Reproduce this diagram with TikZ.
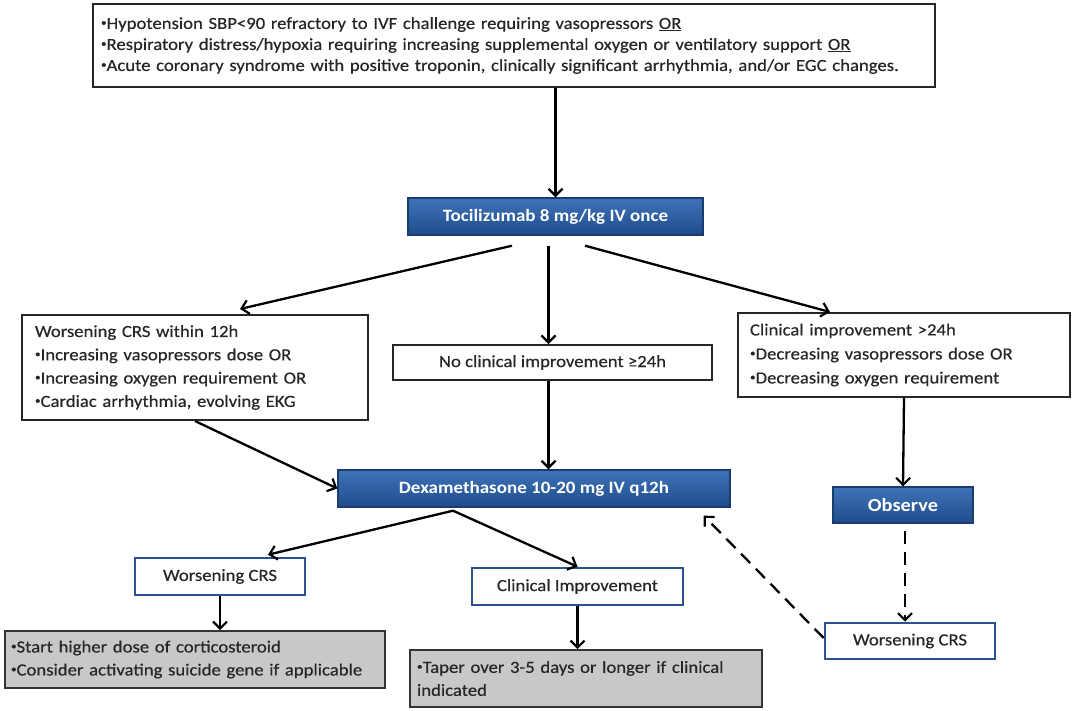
\documentclass[tikz,border=0pt]{standalone}
\usepackage{fontspec}
\setmainfont{Carlito}[FakeStretch=1.1, UprightFeatures={FakeBold=0.4}]
\usetikzlibrary{arrows.meta,calc}
\definecolor{blueTop}{HTML}{3F73B8}
\definecolor{blueBot}{HTML}{1E4C8A}
\definecolor{blueLine}{HTML}{1A3D6E}
\definecolor{blueEdge}{HTML}{2B5290}
\definecolor{grayFill}{HTML}{C8C8C8}
\newcommand{\bl}{\raisebox{0.18em}{\scalebox{0.6}{•}}}
\tikzset{
  plainbox/.style={draw=black!85, line width=2pt, fill=white, align=left, inner ysep=0pt,
    text=black!85, font=\fontsize{17}{23.3}\selectfont},
  bluebox/.style={draw=blueLine, line width=1.4pt, top color=blueTop, bottom color=blueBot,
    text=white, font=\fontsize{17.3}{22}\selectfont\bfseries, inner sep=0pt},
  edgebox/.style={draw=blueEdge, line width=2.6pt, fill=white, inner sep=0pt,
    text=black!85, font=\fontsize{17}{22}\selectfont},
  graybox/.style={draw=black!80, line width=1.8pt, fill=grayFill, align=left, inner ysep=0pt,
    text=black!85, font=\fontsize{17}{23}\selectfont},
  arr/.style={line width=2.3pt, -{Straight Barb[length=7pt,width=14pt,line width=2.2pt]}},
  darr/.style={arr, dash pattern=on 13pt off 8pt},
}
\begin{document}
\begin{tikzpicture}[x=1pt,y=-1pt]
\useasboundingbox (0,0) rectangle (1073,710);
\fill[white] (0,0) rectangle (1073,710);

\node[plainbox, minimum width=842pt, minimum height=83pt, text width=826pt, inner xsep=8pt,
  font=\fontsize{17}{21}\selectfont] (top) at (514,45.5)
  {\bl Hypotension SBP<90 refractory to IVF challenge requiring vasopressors \underline{OR}\\
   \bl Respiratory distress/hypoxia requiring increasing supplemental oxygen or ventilatory support \underline{OR}\\
   \bl Acute coronary syndrome with positive troponin, clinically significant arrhythmia, and/or EGC changes.};

\node[bluebox, minimum width=295pt, minimum height=37pt] (toc) at (555.5,216.5) {Tocilizumab 8 mg/kg IV once};

\node[plainbox, minimum width=346pt, minimum height=105pt, text width=320pt, inner xsep=13pt] (wcrs12) at (195,367.5)
  {Worsening CRS within 12h\\
   \bl Increasing vasopressors dose OR\\
   \bl Increasing oxygen requirement OR\\
   \bl Cardiac arrhythmia, evolving EKG};

\node[plainbox, minimum width=319pt, minimum height=35pt, align=center] (noimp) at (552.5,362.5)
  {No clinical improvement ≥24h};

\node[plainbox, minimum width=332pt, minimum height=84pt, text width=308pt, inner xsep=12pt,
  font=\fontsize{17}{24}\selectfont] (climp) at (904,355)
  {Clinical improvement >24h\\
   \bl Decreasing vasopressors dose OR\\
   \bl Decreasing oxygen requirement};

\node[bluebox, minimum width=392pt, minimum height=37pt] (dex) at (534,488.5) {Dexamethasone 10-20 mg IV q12h};

\node[bluebox, minimum width=140pt, minimum height=36pt, font=\fontsize{18.5}{22}\selectfont\bfseries] (obs) at (903,505) {Observe};

\node[edgebox, minimum width=170pt, minimum height=36pt] (wcrsR) at (910,641) {Worsening CRS};
\node[edgebox, minimum width=170pt, minimum height=37pt] (wcrsL) at (220,576.5) {Worsening CRS};
\node[edgebox, minimum width=211pt, minimum height=37pt] (climp2) at (577.5,586.5) {Clinical Improvement};

\node[graybox, minimum width=380pt, minimum height=57pt, text width=368pt, inner xsep=6pt] (gray1) at (195,659.5)
  {\bl Start higher dose of corticosteroid\\
   \bl Consider activating suicide gene if applicable};
\node[graybox, minimum width=352pt, minimum height=57pt, text width=338pt, inner xsep=7pt] (gray2) at (586,678.5)
  {\bl Taper over 3-5 days or longer if clinical\\
   indicated};

% connectors
\draw[arr] (top.south -| toc) -- (toc.north);
\draw[arr] ($(toc.south)+(-43.5,10)$) -- ($(wcrs12.north)+(45,-5)$);
\draw[arr] ($(toc.south -| noimp)+(-4,10)$) -- ($(noimp.north)+(-4,0)$);
\draw[arr] ($(toc.south)+(29.5,10)$) -- ($(climp.north)+(-74,0)$);
\draw[arr] (wcrs12.south) -- (dex.west);
\draw[arr] ($(noimp.south)+(-4,0)$) -- ($(dex.north -| noimp)+(-4,0)$);
\draw[arr] (climp.south) -- (obs.north);
\draw[darr] ($(obs.south)+(2,7)$) -- ($(wcrsR.north)+(-5,0)$);
\draw[darr] ($(wcrsR.west)+(0,-3)$) -- ($(dex.south east)+(-27,8)$);
\coordinate (split) at ($(dex.south)+(-81,3)$);
\draw[arr] (split) -- ($(wcrsL.north)+(48,-2)$);
\draw[arr] (split) -- (climp2.north);
\draw[arr] (wcrsL.south) -- (gray1.north -| wcrsL);
\draw[arr] (climp2.south) -- (gray2.north -| climp2);
\end{tikzpicture}
\end{document}
